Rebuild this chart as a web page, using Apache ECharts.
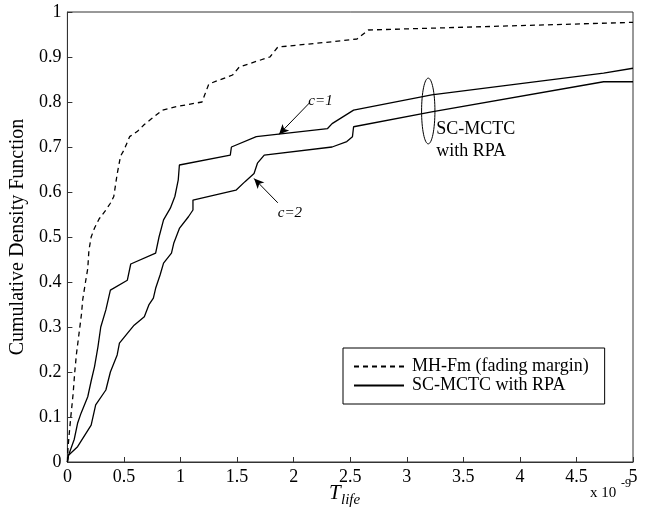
<!DOCTYPE html>
<html>
<head>
    <meta charset="utf-8" />
    <title>Cumulative Density Function of T_life</title>
    <script type="text/javascript" src="https://cdn.jsdelivr.net/npm/echarts@6/dist/echarts.min.js"></script>
    <style>
        body { margin: 0; background: #fff; }
    </style>
</head>
<body>
<div id="main" style="width: 658px;height:519px;"></div>
<script type="text/javascript">
    // x values are in units of 1e-9 (see the "x 10^-9" under the axis)
    var tMh = [0, 0.005, 0.015, 0.03, 0.05, 0.065, 0.08, 0.1, 0.125, 0.135, 0.16, 0.18, 0.19, 0.21, 0.24, 0.28, 0.34, 0.38, 0.41, 0.44, 0.47, 0.5, 0.55, 0.62, 0.68, 0.74, 0.84, 0.97, 1.19, 1.25, 1.46, 1.52, 1.79, 1.86, 2.34, 2.56, 2.66, 5];
    var cdfMh = [0, 0.03, 0.06, 0.10, 0.15, 0.20, 0.24, 0.28, 0.33, 0.36, 0.40, 0.43, 0.47, 0.50, 0.52, 0.54, 0.56, 0.575, 0.59, 0.64, 0.68, 0.693, 0.723, 0.735, 0.75, 0.762, 0.782, 0.79, 0.80, 0.84, 0.86, 0.878, 0.90, 0.922, 0.934, 0.94, 0.96, 0.977];

    var tC1 = [0, 0.01, 0.06, 0.09, 0.12, 0.18, 0.21, 0.24, 0.27, 0.295, 0.34, 0.38, 0.53, 0.56, 0.78, 0.81, 0.85, 0.91, 0.95, 0.98, 0.99, 1.44, 1.45, 1.67, 2.30, 2.34, 2.53, 3.22, 4.74, 5];
    var cdfC1 = [0, 0.015, 0.05, 0.086, 0.108, 0.145, 0.18, 0.212, 0.256, 0.30, 0.338, 0.382, 0.404, 0.44, 0.464, 0.50, 0.538, 0.564, 0.59, 0.627, 0.66, 0.682, 0.70, 0.723, 0.741, 0.752, 0.782, 0.816, 0.864, 0.875];

    var tC2 = [0, 0.01, 0.09, 0.21, 0.25, 0.34, 0.38, 0.44, 0.46, 0.53, 0.59, 0.68, 0.72, 0.76, 0.78, 0.82, 0.85, 0.92, 0.94, 0.99, 1.07, 1.11, 1.11, 1.49, 1.57, 1.65, 1.68, 1.74, 2.34, 2.47, 2.52, 2.53, 3.22, 4.74, 5];
    var cdfC2 = [0, 0.015, 0.034, 0.082, 0.127, 0.16, 0.20, 0.238, 0.264, 0.286, 0.304, 0.323, 0.349, 0.364, 0.386, 0.416, 0.442, 0.464, 0.486, 0.519, 0.545, 0.56, 0.582, 0.604, 0.623, 0.641, 0.664, 0.682, 0.70, 0.712, 0.723, 0.745, 0.778, 0.845, 0.845];

    var seriesNames = ['MH-Fm (fading margin)', 'SC-MCTC with RPA'];

    function pairs(xs, ys) {
        var out = [];
        for (var i = 0; i < xs.length; i++) {
            out.push([xs[i], ys[i]]);
        }
        return out;
    }

    var serif = 'Liberation Serif';
    var myChart = echarts.init(document.getElementById('main'));

    var option = {
        animation: false,
        grid: {
            left: 63, right: 25, top: 12, bottom: 57,
            show: true, borderColor: '#333', borderWidth: 1
        },
        legend: {
            data: seriesNames,
            orient: 'vertical',
            left: 343, top: 348,
            padding: [9, 16, 9, 10],
            itemWidth: 50, itemHeight: 14, itemGap: 0,
            backgroundColor: '#fff',
            borderColor: '#000', borderWidth: 1,
            // hide the round marker, keep only the line sample
            itemStyle: { color: 'rgba(0,0,0,0)', borderWidth: 0, opacity: 0 },
            textStyle: { fontFamily: serif, fontSize: 18, color: '#000', lineHeight: 19, padding: [0, 0, 0, 3] }
        },
        xAxis: {
            type: 'value', min: 0, max: 5, interval: 0.5,
            axisLine: { lineStyle: { color: '#333', width: 1 } },
            axisTick: { inside: true, length: 5, lineStyle: { color: '#333' } },
            axisLabel: { fontFamily: serif, fontSize: 18, color: '#000', margin: 6 },
            splitLine: { show: false }
        },
        yAxis: {
            type: 'value', min: 0, max: 1, interval: 0.1,
            name: 'Cumulative Density Function',
            nameLocation: 'middle', nameGap: 32,
            nameTextStyle: { fontFamily: serif, fontSize: 20, color: '#000' },
            axisLine: { lineStyle: { color: '#333', width: 1 } },
            axisTick: { inside: true, length: 5, lineStyle: { color: '#333' } },
            axisLabel: { fontFamily: serif, fontSize: 18, color: '#000', margin: 6 },
            splitLine: { show: false }
        },
        series: [
            {
                name: seriesNames[0], type: 'line', symbol: 'none', silent: true,
                data: pairs(tMh, cdfMh),
                lineStyle: { color: '#000', width: 1.3, type: [5, 4] },
                itemStyle: { color: '#000' }
            },
            {
                name: seriesNames[1], type: 'line', symbol: 'none', silent: true,
                data: pairs(tC1, cdfC1),
                lineStyle: { color: '#000', width: 1.3 },
                itemStyle: { color: '#000' },
                markLine: {
                    silent: true, symbol: ['none', 'arrow'], symbolSize: [7, 10],
                    label: { show: false },
                    lineStyle: { color: '#000', width: 1, type: 'solid' },
                    data: [[{ coord: [2.14, 0.798] }, { coord: [1.87, 0.728] }]]
                }
            },
            {
                name: seriesNames[1], type: 'line', symbol: 'none', silent: true,
                data: pairs(tC2, cdfC2),
                lineStyle: { color: '#000', width: 1.3 },
                itemStyle: { color: '#000' },
                markLine: {
                    silent: true, symbol: ['none', 'arrow'], symbolSize: [7, 10],
                    label: { show: false },
                    lineStyle: { color: '#000', width: 1, type: 'solid' },
                    data: [[{ coord: [1.86, 0.576] }, { coord: [1.65, 0.63] }]]
                }
            }
        ]
    };
    myChart.setOption(option);

    // annotations placed through the grid's own scale
    function px(p) { return myChart.convertToPixel({ gridIndex: 0 }, p); }
    var ec = px([3.19, 0.780]);
    var ee = px([3.249, 0.853]);
    var t1 = px([2.13, 0.802]);
    var t2 = px([1.86, 0.553]);
    var tg = px([3.26, 0.714]);

    myChart.setOption({
        graphic: [
            {
                type: 'ellipse', silent: true,
                shape: { cx: ec[0], cy: ec[1], rx: ee[0] - ec[0], ry: ec[1] - ee[1] },
                style: { fill: 'none', stroke: '#000', lineWidth: 1 }
            },
            {
                type: 'text', silent: true, x: t1[0], y: t1[1],
                style: { text: 'c=1', font: 'italic 15px "Liberation Serif"', fill: '#000', verticalAlign: 'middle' }
            },
            {
                type: 'text', silent: true, x: t2[0], y: t2[1],
                style: { text: 'c=2', font: 'italic 15px "Liberation Serif"', fill: '#000', verticalAlign: 'middle' }
            },
            {
                type: 'text', silent: true, x: tg[0], y: tg[1],
                style: { text: 'SC-MCTC\nwith RPA', font: '18px "Liberation Serif"', lineHeight: 22, fill: '#000', verticalAlign: 'middle' }
            },
            // x axis title T_life
            {
                type: 'text', silent: true, x: 329, y: 504,
                style: { text: 'T', font: 'italic 21px "Liberation Serif"', fill: '#000', verticalAlign: 'bottom' }
            },
            {
                type: 'text', silent: true, x: 341, y: 508,
                style: { text: 'life', font: 'italic 15px "Liberation Serif"', fill: '#000', verticalAlign: 'bottom' }
            },
            // exponent
            {
                type: 'text', silent: true, x: 590, y: 501,
                style: { text: 'x 10', font: '15px "Liberation Serif"', fill: '#000', verticalAlign: 'bottom' }
            },
            {
                type: 'text', silent: true, x: 621, y: 490,
                style: { text: '-9', font: '12px "Liberation Serif"', fill: '#000', verticalAlign: 'bottom' }
            }
        ]
    });
</script>
</body>
</html>
